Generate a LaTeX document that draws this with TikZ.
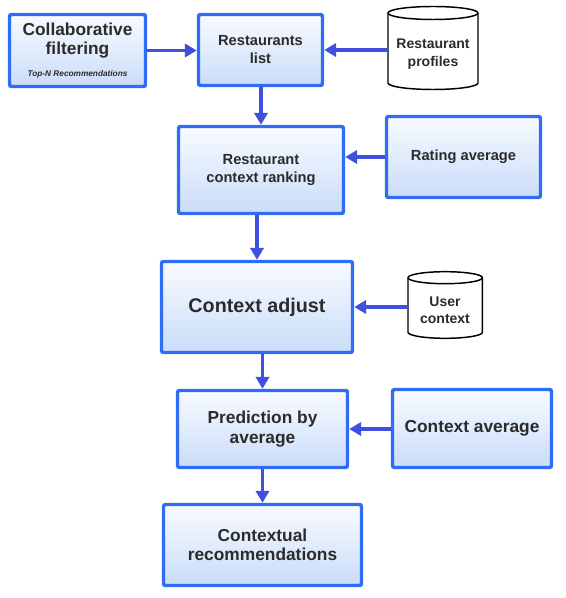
\documentclass[tikz,border=0pt]{standalone}
\usepackage{fontspec}
\setmainfont{Liberation Sans}
\usetikzlibrary{arrows.meta}
\definecolor{bordblue}{HTML}{2F6EF4}
\definecolor{arrblue}{HTML}{3F50E0}
\definecolor{boxtop}{HTML}{F8FBFF}
\definecolor{boxbot}{HTML}{CADCF9}
\definecolor{txt}{HTML}{2B2B2B}
\begin{document}
\begin{tikzpicture}[x=0.75pt,y=-0.75pt,
  box/.style={draw=bordblue, line width=2.6pt, rounded corners=1.5pt,
    top color=boxtop, bottom color=boxbot, align=center, text=txt,
    font=\bfseries, inner sep=2pt},
  cyltext/.style={align=center, text=txt, inner sep=0pt,
    font=\bfseries\fontsize{10.5}{13}\selectfont},
  cylline/.style={draw=black, line width=1.1pt, fill=white},
  arr/.style={draw=arrblue, line width=2.3pt, -{Triangle[length=9pt,width=10pt]}},
  fmid/.style={font=\bfseries\fontsize{11}{13.5}\selectfont},
  fbig/.style={font=\bfseries\fontsize{13}{14.5}\selectfont}]
\useasboundingbox (0,0) rectangle (565,598);

% boxes
\node[box, minimum width=102pt, minimum height=54pt,
  font=\bfseries\fontsize{13}{14.5}\selectfont] (cf) at (77.5,50.5)
  {Collaborative\\filtering\\[1.5pt]
   \fontsize{6.2}{7}\selectfont\itshape Top-N Recommendations};
\node[box, fmid, minimum width=93pt, minimum height=53.25pt] (list) at (260.5,50)
  {Restaurants\\list};
\node[box, fmid, minimum width=123.75pt, minimum height=65.25pt] (rank) at (261,170)
  {Restaurant\\context ranking};
\node[box, fmid, minimum width=115.5pt, minimum height=60.75pt] (rate) at (463.5,157)
  {Rating average};
\node[box, minimum width=143.25pt, minimum height=68.25pt,
  font=\bfseries\fontsize{14.8}{17}\selectfont] (adj) at (257,307)
  {Context adjust};
\node[box, fbig, minimum width=127.5pt, minimum height=57.75pt] (pred) at (262.5,429)
  {Prediction by\\average};
\node[box, fbig, minimum width=119.25pt, minimum height=58.5pt] (cavg) at (472,428.5)
  {Context average};
\node[box, fbig, minimum width=148.5pt, minimum height=60.75pt] (rec) at (262.5,545)
  {Contextual\\recommendations};

% cylinder: restaurant profiles
\path[cylline] (388,13) -- (388,83)
  arc[start angle=180, end angle=360, x radius=33.75pt, y radius=4.875pt]
  -- (478,13)
  arc[start angle=0, end angle=180, x radius=33.75pt, y radius=4.875pt] -- cycle;
\draw[line width=1.1pt] (388,13)
  arc[start angle=180, end angle=360, x radius=33.75pt, y radius=4.875pt];
\node[cyltext, minimum width=69pt] (prof) at (433,54) {Restaurant\\profiles};

% cylinder: user context
\path[cylline] (408,277.7) -- (408,332.3)
  arc[start angle=180, end angle=360, x radius=27.9pt, y radius=4.5pt]
  -- (482.4,277.7)
  arc[start angle=0, end angle=180, x radius=27.9pt, y radius=4.5pt] -- cycle;
\draw[line width=1.1pt] (408,277.7)
  arc[start angle=180, end angle=360, x radius=27.9pt, y radius=4.5pt];
\node[cyltext, minimum width=57pt] (user) at (445,310.5) {User\\context};

% connectors
\draw[arr] (cf.east) -- (cf.east -| list.west);
\draw[arr] (prof.west |- list.east) -- (list.east);
\draw[arr] (list.south -| rank.north) -- (rank.north);
\draw[arr] (rate.west) -- (rate.west -| rank.east);
\draw[arr] (rank.south -| adj.north) -- (adj.north);
\draw[arr] (user.west |- adj.east) -- (adj.east);
\draw[arr] (adj.south -| pred.north) -- (pred.north);
\draw[arr] (cavg.west |- pred.east) -- (pred.east);
\draw[arr] (pred.south) -- (pred.south |- rec.north);
\end{tikzpicture}
\end{document}
